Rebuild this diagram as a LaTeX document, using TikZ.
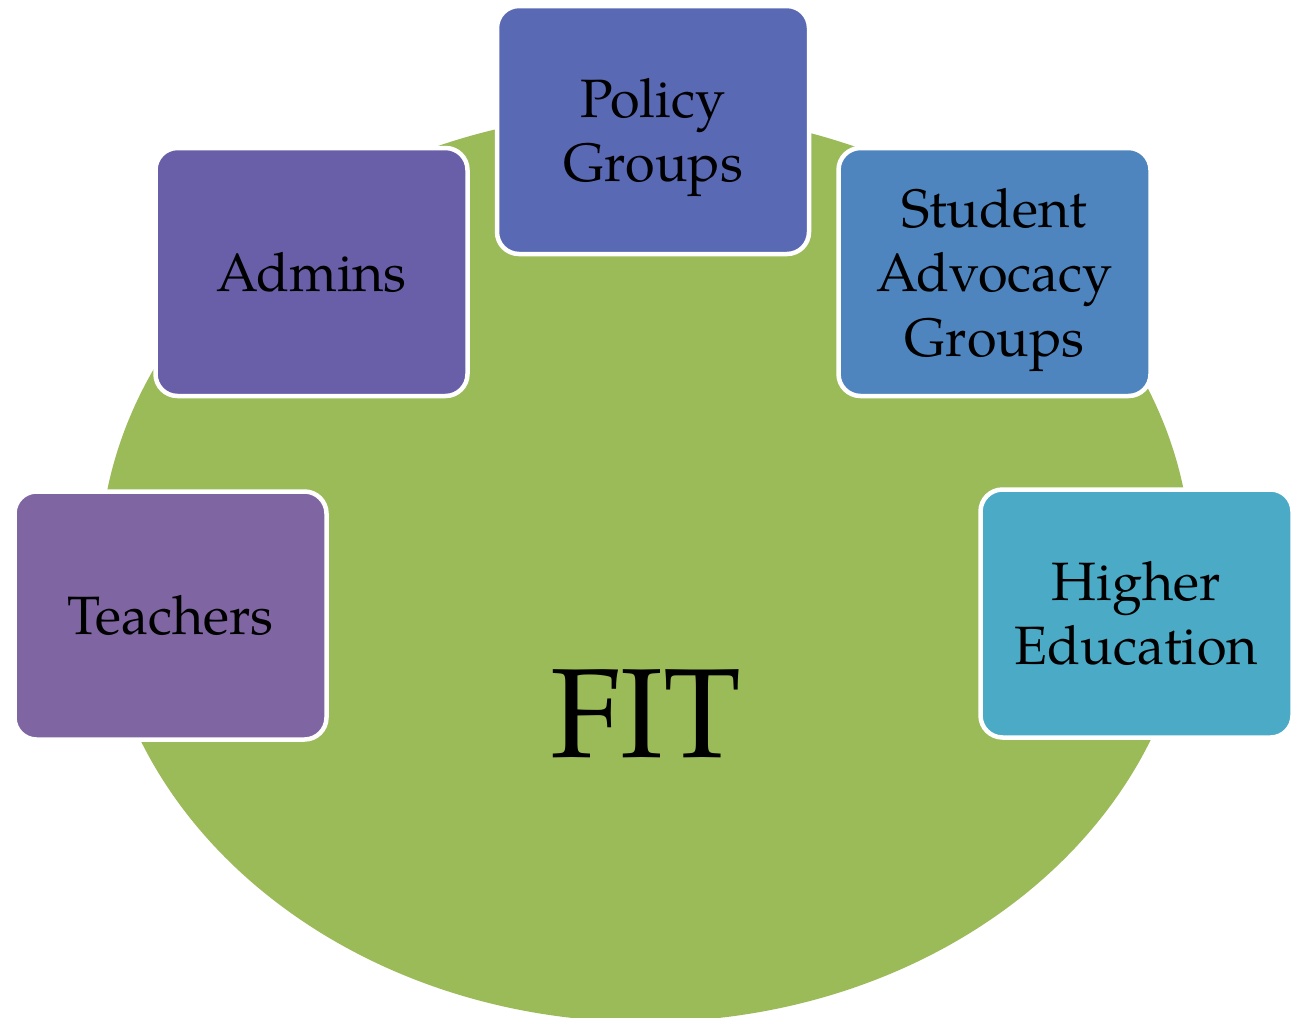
\documentclass[tikz,border=0pt]{standalone}
\usepackage{fontspec}
\setmainfont{texgyrepagella-regular.otf}
\definecolor{fitgreen}{HTML}{9BBB59}
\definecolor{cteach}{HTML}{7F65A1}
\definecolor{cadmin}{HTML}{695FA9}
\definecolor{cpolicy}{HTML}{5A69B4}
\definecolor{cstudent}{HTML}{4F85BE}
\definecolor{chigher}{HTML}{4BABC6}
\begin{document}
\begin{tikzpicture}[x=1pt,y=-1pt,
  groupbox/.style={draw=white, line width=4.5pt, rounded corners=22pt,
    minimum width=312pt, minimum height=248pt, inner sep=0pt,
    align=center, text=black, font=\fontsize{54}{64.5}\selectfont}]
\useasboundingbox (0,0) rectangle (1297,1017);
\fill[fitgreen] (645.5,567) ellipse [x radius=546, y radius=455];
\node (fit) at (646,714) {\fontsize{127}{150}\selectfont FIT};
\node[groupbox, fill=cteach] (teachers) at (170.5,615.5) {Teachers};
\node[groupbox, fill=cadmin] (admins) at (311.5,272) {Admins};
\node[groupbox, fill=cpolicy, text depth=0pt] (policy) at (653,130) {Policy\\Groups};
\node[groupbox, fill=cstudent, text depth=0pt] (student) at (994.5,272) {Student\\Advocacy\\Groups};
\node[groupbox, fill=chigher] (higher) at (1136.5,613.5) {Higher\\Education};
\end{tikzpicture}
\end{document}
